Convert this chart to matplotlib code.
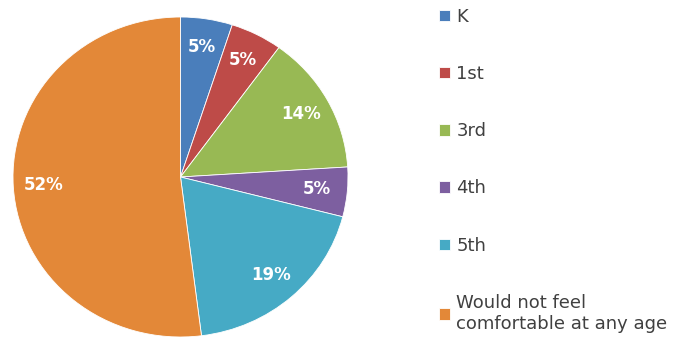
import matplotlib.pyplot as plt

grades = ['K', '1st', '3rd', '4th', '5th', 'Would not feel\ncomfortable at any age']
shares = [5, 5, 14, 5, 19, 52]
colors = ['#4a7ebb', '#be4b48', '#98b954', '#7d5fa0', '#46aac5', '#e38838']

fig = plt.figure(figsize=(6.77, 3.46), dpi=100)
# pie area, a little wider than tall
ax = fig.add_axes([13 / 677, 9 / 346, 335 / 677, 320 / 346])

wedges, texts, pcts = ax.pie(
    shares, colors=colors, startangle=90, counterclock=False,
    autopct='%d%%', pctdistance=0.82,
    wedgeprops=dict(edgecolor='white', linewidth=0.6),
    textprops=dict(color='white', fontsize=12, fontweight='bold'))
ax.set_aspect('auto')
ax.set_xlim(-1, 1)
ax.set_ylim(-1, 1)

leg = fig.legend(wedges, grades, loc='upper left', bbox_to_anchor=(432 / 677, 0.998),
                 frameon=False, fontsize=13, handlelength=0.6, handleheight=0.6,
                 handletextpad=0.35, labelspacing=2.17, borderaxespad=0)
for t in leg.get_texts():
    t.set_color('#404040')

fig.savefig('out.png', dpi=100)
